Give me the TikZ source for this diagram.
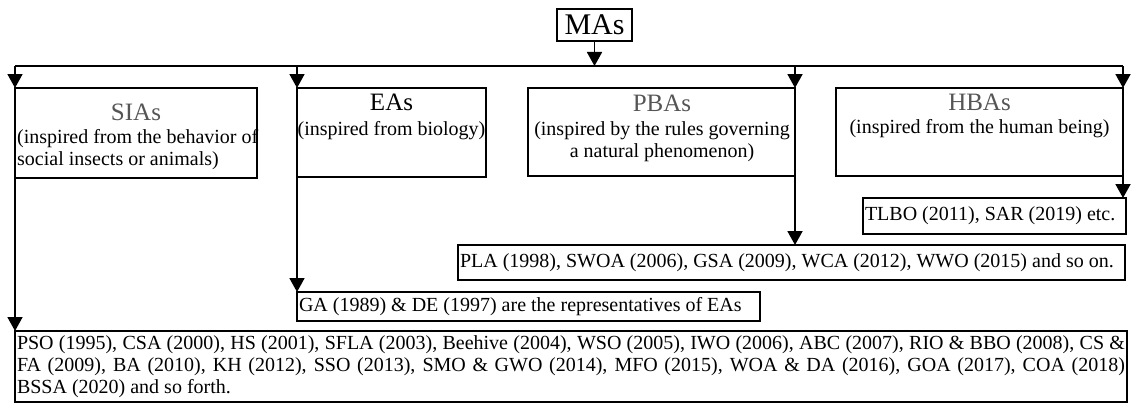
\documentclass[tikz,border=0pt]{standalone}
\usepackage{fontspec}
\setmainfont{Liberation Serif}
\usetikzlibrary{positioning}
\usetikzlibrary{arrows.meta}
\tikzstyle{chart} = [x = 1pt, y = -1pt]
\definecolor{headColor}{RGB}{85,85,85}
\tikzstyle{boxLine} = [draw=black, line width=1.8pt, inner sep=0pt, outer sep=0pt, anchor=north west]
\tikzstyle{headText} = [font=\fontsize{25}{27}\selectfont, text=headColor, inner sep=0pt, anchor=base]
\tikzstyle{bodyText} = [font=\fontsize{20}{22}\selectfont, inner sep=0pt, anchor=base]
\tikzstyle{listBoxStyle} = [boxLine, font=\fontsize{20}{22}\selectfont, inner xsep=2pt, align=justify]
\tikzstyle{plainLine} = [line width=1.8pt]
\tikzstyle{linkArrow} = [line width=1.8pt, -{Triangle[width=15pt, length=14pt]}]
\newcommand{\groupBox}[5]{\node [boxLine, minimum width=#4pt, minimum height=#5pt] (#1) at (#2,#3) {};}
\newcommand{\listBox}[7]{\node [listBoxStyle, minimum width=#4pt, minimum height=#5pt, text width=#6pt] (#1) at (#2,#3) {#7};}

\begin{document}
\begin{tikzpicture}[chart]
  \useasboundingbox (0,0) rectangle (1131,404);

  % root
  \node [draw=black, line width=1.8pt, inner sep=0pt, minimum width=75pt, minimum height=32pt,
         font=\fontsize{30}{32}\selectfont] (mas) at (594.5,25) {MAs};
  \coordinate (hubLeft) at (15,66);
  \coordinate (hubRight) at (1123,66);

  % four groups
  \groupBox{sias}{15}{88}{242}{90}
  \groupBox{eas}{297}{88}{189}{89}
  \groupBox{pbas}{528}{88}{267}{88}
  \groupBox{hbas}{836}{88}{287}{88}

  \node [headText] (siasHead) at (136,120) {SIAs};
  \node [bodyText, anchor=base west] (siasLineA) at (17,143) {(inspired from the behavior of};
  \node [bodyText, anchor=base west] (siasLineB) at (17,165) {social insects or animals)};
  \node [headText, text=black] (easHead) at (391.5,110) {EAs};
  \node [bodyText] (easLine) at (391.5,135) {(inspired from biology)};
  \node [headText] (pbasHead) at (662,111) {PBAs};
  \node [bodyText] (pbasLineA) at (662,135) {(inspired by the rules governing};
  \node [bodyText] (pbasLineB) at (662,157) {a natural phenomenon)};
  \node [headText] (hbasHead) at (979.5,110) {HBAs};
  \node [bodyText] (hbasLine) at (979.5,133) {(inspired from the human being)};

  % lists
  \listBox{tlbo}{863}{198}{263}{36}{259}{TLBO (2011), SAR (2019) etc.}
  \listBox{pla}{458}{245}{667}{35}{663}{PLA (1998), SWOA (2006), GSA (2009), WCA (2012), WWO (2015) and so on.}
  \listBox{ga}{297}{292}{463}{29}{459}{GA (1989) \& DE (1997) are the representatives of EAs}
  \listBox{sir}{15}{331}{1112}{71}{1108}{PSO (1995), CSA (2000), HS (2001), SFLA (2003), Beehive (2004), WSO (2005), IWO (2006), ABC (2007), RIO \& BBO (2008), CS \&\linebreak FA (2009), BA (2010), KH (2012), SSO (2013), SMO \& GWO (2014), MFO (2015), WOA \& DA (2016), GOA (2017), COA (2018)\linebreak BSSA (2020) and so forth.}

  % connectors
  \draw [linkArrow] (mas.south) -- (mas.south |- hubLeft);
  \draw [plainLine] (hubLeft) -- (hubRight);
  \draw [linkArrow] (hubLeft) -- (sias.north west);
  \draw [linkArrow] (eas.north west |- hubLeft) -- (eas.north west);
  \draw [linkArrow] (pbas.north east |- hubLeft) -- (pbas.north east);
  \draw [linkArrow] (hubRight) -- (hbas.north east);
  \draw [linkArrow] (sias.south west) -- (sir.north west);
  \draw [linkArrow] (eas.south west) -- (ga.north west);
  \draw [linkArrow] (pbas.south east) -- (pbas.south east |- pla.north);
  \draw [linkArrow] (hbas.south east) -- (hbas.south east |- tlbo.north);
\end{tikzpicture}
\end{document}
